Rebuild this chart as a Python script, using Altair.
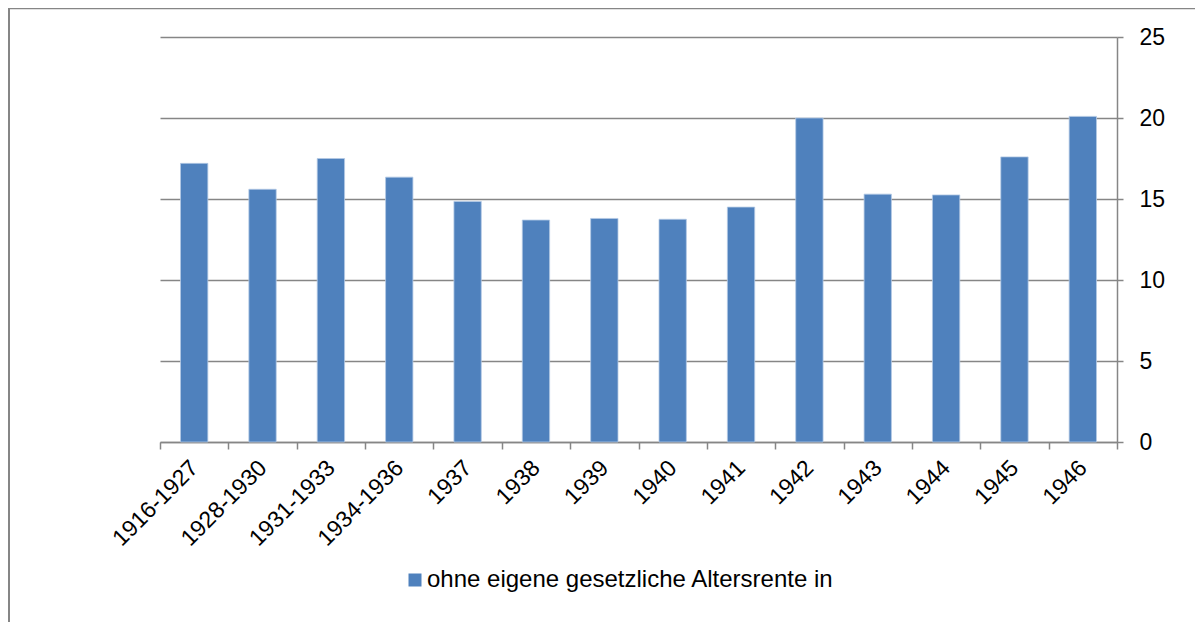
import altair as alt
import pandas as pd

categories = ["1916-1927", "1928-1930", "1931-1933", "1934-1936", "1937", "1938",
              "1939", "1940", "1941", "1942", "1943", "1944", "1945", "1946"]
values = [17.2, 15.6, 17.5, 16.35, 14.85, 13.7, 13.8, 13.75, 14.5, 20.0, 15.3, 15.25, 17.6, 20.1]
series_name = "ohne eigene gesetzliche Altersrente in"
y_ticks = [0, 5, 10, 15, 20, 25]

df = pd.DataFrame({"cat": categories, "val": values, "series": [series_name] * len(categories)})

W, H = 957, 405
PAD_L, PAD_T, PAD_R, PAD_B = 152, 29, 78, 180
GRAY = "#868686"
FONT = "Liberation Sans"
FS = 23

bars = alt.Chart(df).mark_bar(color="#4F81BD", stroke="#b4c9e4", strokeWidth=0.8,
                              width=alt.RelativeBandSize(0.4)).encode(
    x=alt.X("cat:N", sort=categories, title=None,
            scale=alt.Scale(paddingInner=0, paddingOuter=0),
            axis=alt.Axis(labelAngle=-45, labelAlign="right", labelBaseline="middle",
                          tickBand="extent", tickSize=7, tickColor=GRAY, tickWidth=1.5,
                          domainColor=GRAY, domainWidth=1.5, labelPadding=15,
                          labelFont=FONT, labelFontSize=FS, labelColor="black", grid=False)),
    y=alt.Y("val:Q", title=None,
            scale=alt.Scale(domain=[0, 25], nice=False),
            axis=alt.Axis(orient="right", values=y_ticks, tickSize=6, tickColor=GRAY, tickWidth=1.5,
                          domainColor=GRAY, domainWidth=1.5, grid=True, gridColor=GRAY, gridWidth=1.5,
                          labelPadding=16, labelFont=FONT, labelFontSize=FS, labelColor="black")),
    color=alt.Color("series:N", scale=alt.Scale(range=["#4F81BD"]),
                    legend=alt.Legend(title=None, orient="none", legendX=243, legendY=531,
                                      symbolType="square", symbolSize=169, symbolStrokeWidth=0,
                                      labelFont=FONT, labelFontSize=24, labelColor="black",
                                      labelLimit=0, labelOffset=0, padding=0)),
)

one = alt.Data(values=[{"k": 1}])
top_border = alt.Chart(one).mark_rule(color=GRAY, strokeWidth=1.5).encode(
    x=alt.value(-PAD_L), x2=alt.value(W + PAD_R), y=alt.value(-PAD_T + 0.5))
left_border = alt.Chart(one).mark_rule(color=GRAY, strokeWidth=2).encode(
    x=alt.value(-PAD_L + 1), y=alt.value(-PAD_T), y2=alt.value(H + PAD_B))

chart = alt.layer(bars, top_border, left_border).properties(
    width=W, height=H,
    background="white",
    autosize=alt.AutoSizeParams(type="none"),
    padding={"left": PAD_L, "top": PAD_T, "right": PAD_R, "bottom": PAD_B},
).configure_view(stroke=None)

chart.save("out.html", embed_options={"renderer": "svg", "actions": False})
